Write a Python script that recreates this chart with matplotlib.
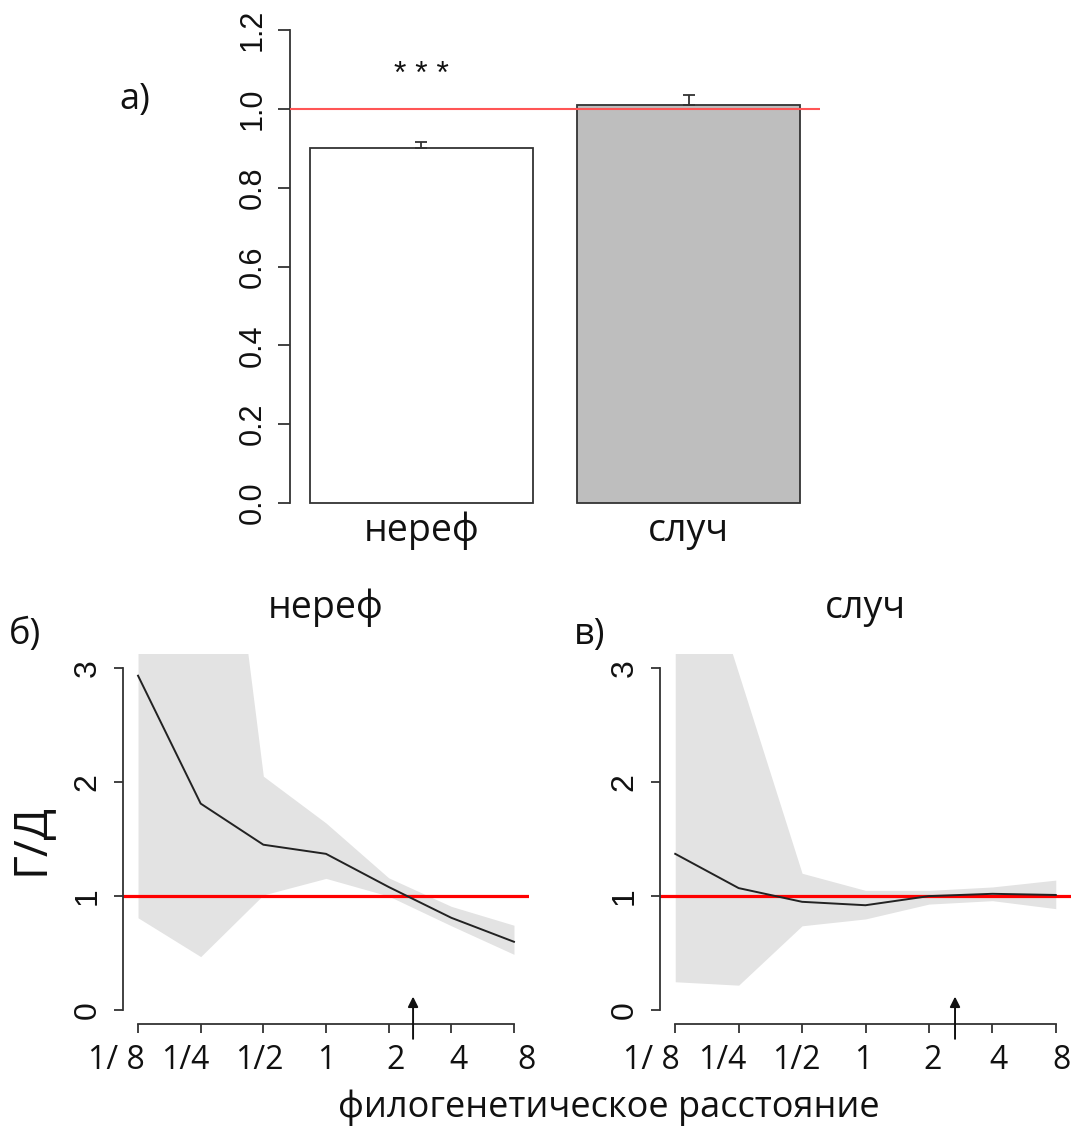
import matplotlib
matplotlib.use("Agg")
import matplotlib.pyplot as plt
from matplotlib.transforms import ScaledTranslation

# panel a: mean ratio per group
groups = ['нереф', 'случ']
ratio_mean = [0.90, 1.01]
ratio_se = [0.015, 0.025]
bar_colors = ['white', '#bebebe']

# panels б, в: ratio vs phylogenetic distance
distance = [1/8, 1/4, 1/2, 1, 2, 4, 8]
dist_labels = ['1/ 8', '1/4', '1/2', '1', '2', '4', '8']
neref_mid = [2.93, 1.81, 1.45, 1.37, 1.08, 0.81, 0.60]
neref_lo = [0.81, 0.47, 1.01, 1.155, 1.00, 0.74, 0.49]
neref_hi = [6.5, 6.4, 2.05, 1.64, 1.16, 0.91, 0.745]
sluch_mid = [1.37, 1.07, 0.95, 0.92, 1.00, 1.02, 1.01]
sluch_lo = [0.25, 0.22, 0.74, 0.80, 0.93, 0.96, 0.89]
sluch_hi = [4.7, 2.95, 1.20, 1.05, 1.05, 1.08, 1.14]
arrow_x = [2.62, 2.66]

rfont = ['Liberation Sans', 'DejaVu Sans']
pfont = ['Open Sans', 'DejaVu Sans']
axcol = '#333333'
txtcol = '#111111'

fig = plt.figure(figsize=(10.74, 11.33), dpi=100)

# ---- panel a ----
ax = fig.add_axes([290/1074, 1 - 522/1133, 530/1074, 511/1133])
xpos = [0.7, 1.9]
ax.bar(xpos, ratio_mean, width=1.0, color=bar_colors, edgecolor=axcol, linewidth=1.3, zorder=2)
ax.errorbar(xpos, ratio_mean, yerr=[[0, 0], ratio_se], fmt='none', ecolor=axcol,
            elinewidth=1.3, capsize=4.3, capthick=1.3, zorder=3)
ax.axhline(1.0, color='#ff5555', lw=1.5, zorder=4)
ax.text(0.7, 1.085, '* * *', ha='center', va='center', fontsize=23, family=rfont, color=txtcol)
ax.set_xlim(0.112, 2.488)
ax.set_ylim(-0.048, 1.248)
for s in ['top', 'right', 'bottom']:
    ax.spines[s].set_visible(False)
ax.spines['left'].set_bounds(0, 1.2)
ax.spines['left'].set_color(axcol)
ax.spines['left'].set_linewidth(1.3)
ax.set_yticks([0, 0.2, 0.4, 0.6, 0.8, 1.0, 1.2])
ax.set_yticklabels(['0.0', '0.2', '0.4', '0.6', '0.8', '1.0', '1.2'],
                   rotation=90, va='center', family=rfont, fontsize=22, color=txtcol)
ax.tick_params(axis='y', length=9, width=1.3, color=axcol, pad=7)
ax.set_xticks([])
for x, g in zip(xpos, groups):
    ax.text(x, -0.07, g, ha='center', va='center', fontsize=27, family=pfont, color=txtcol)
fig.text(135/1074, 1 - 100/1133, 'а)', ha='center', va='center', fontsize=26,
         family=pfont, color=txtcol)


def curve_panel(left, width, mid, lo, hi, arr, title, tag, tag_x, offs):
    a = fig.add_axes([left, 1 - 1024/1133, width, 370/1133])
    a.set_xscale('log', base=2)
    a.fill_between(distance, lo, hi, color='#e3e3e3', lw=0, zorder=1)
    a.plot(distance, mid, color='#222222', lw=1.4, zorder=3)
    a.axhline(1.0, color='#ff0000', lw=2.3, zorder=2)
    a.set_xlim(2 ** -3.24, 2 ** 3.24)
    a.set_ylim(-0.12, 3.12)
    for s in ['top', 'right']:
        a.spines[s].set_visible(False)
    a.spines['left'].set_bounds(0, 3)
    a.spines['bottom'].set_bounds(1/8, 8)
    for s in ['left', 'bottom']:
        a.spines[s].set_color(axcol)
        a.spines[s].set_linewidth(1.3)
    a.set_yticks([0, 1, 2, 3])
    a.set_yticklabels(['0', '1', '2', '3'], rotation=90, va='center',
                      family=rfont, fontsize=23, color=txtcol)
    a.set_xticks(distance)
    a.minorticks_off()
    a.set_xticklabels(dist_labels, family=pfont, fontsize=23, color=txtcol)
    a.tick_params(length=6.5, width=1.3, color=axcol)
    a.tick_params(axis='y', pad=8)
    a.tick_params(axis='x', pad=8)
    for lab, dx in zip(a.get_xticklabels(), offs):
        lab.set_transform(lab.get_transform() + ScaledTranslation(dx / 100, 0, fig.dpi_scale_trans))
    a.annotate('', xy=(arr, 0.12), xytext=(arr, -0.25), annotation_clip=False,
               arrowprops=dict(arrowstyle='-|>', color='#111111', lw=1.4,
                               mutation_scale=15, shrinkA=0, shrinkB=0))
    a.set_title(title, fontsize=27, family=pfont, pad=26, color=txtcol)
    fig.text(tag_x, 1 - 635/1133, tag, ha='center', va='center', fontsize=26,
             family=pfont, color=txtcol)
    return a


axl = curve_panel(123/1074, 406/1074, neref_mid, neref_lo, neref_hi, arrow_x[0],
                  'нереф', 'б)', 25/1074, [-22, -15, -4, 0, 7, 7, 13])
axl.set_ylabel('Г/Д', fontsize=33, family=pfont, labelpad=14, color=txtcol)
axr = curve_panel(660/1074, 411/1074, sluch_mid, sluch_lo, sluch_hi, arrow_x[1],
                  'случ', 'в)', 590/1074, [-24, -16, -6, -2, 4, 6, 6])

fig.text(609/1074, 1 - 1108/1133, 'филогенетическое расстояние', ha='center', va='center',
         fontsize=26, family=pfont, color=txtcol)

fig.savefig('out.png', dpi=100)
